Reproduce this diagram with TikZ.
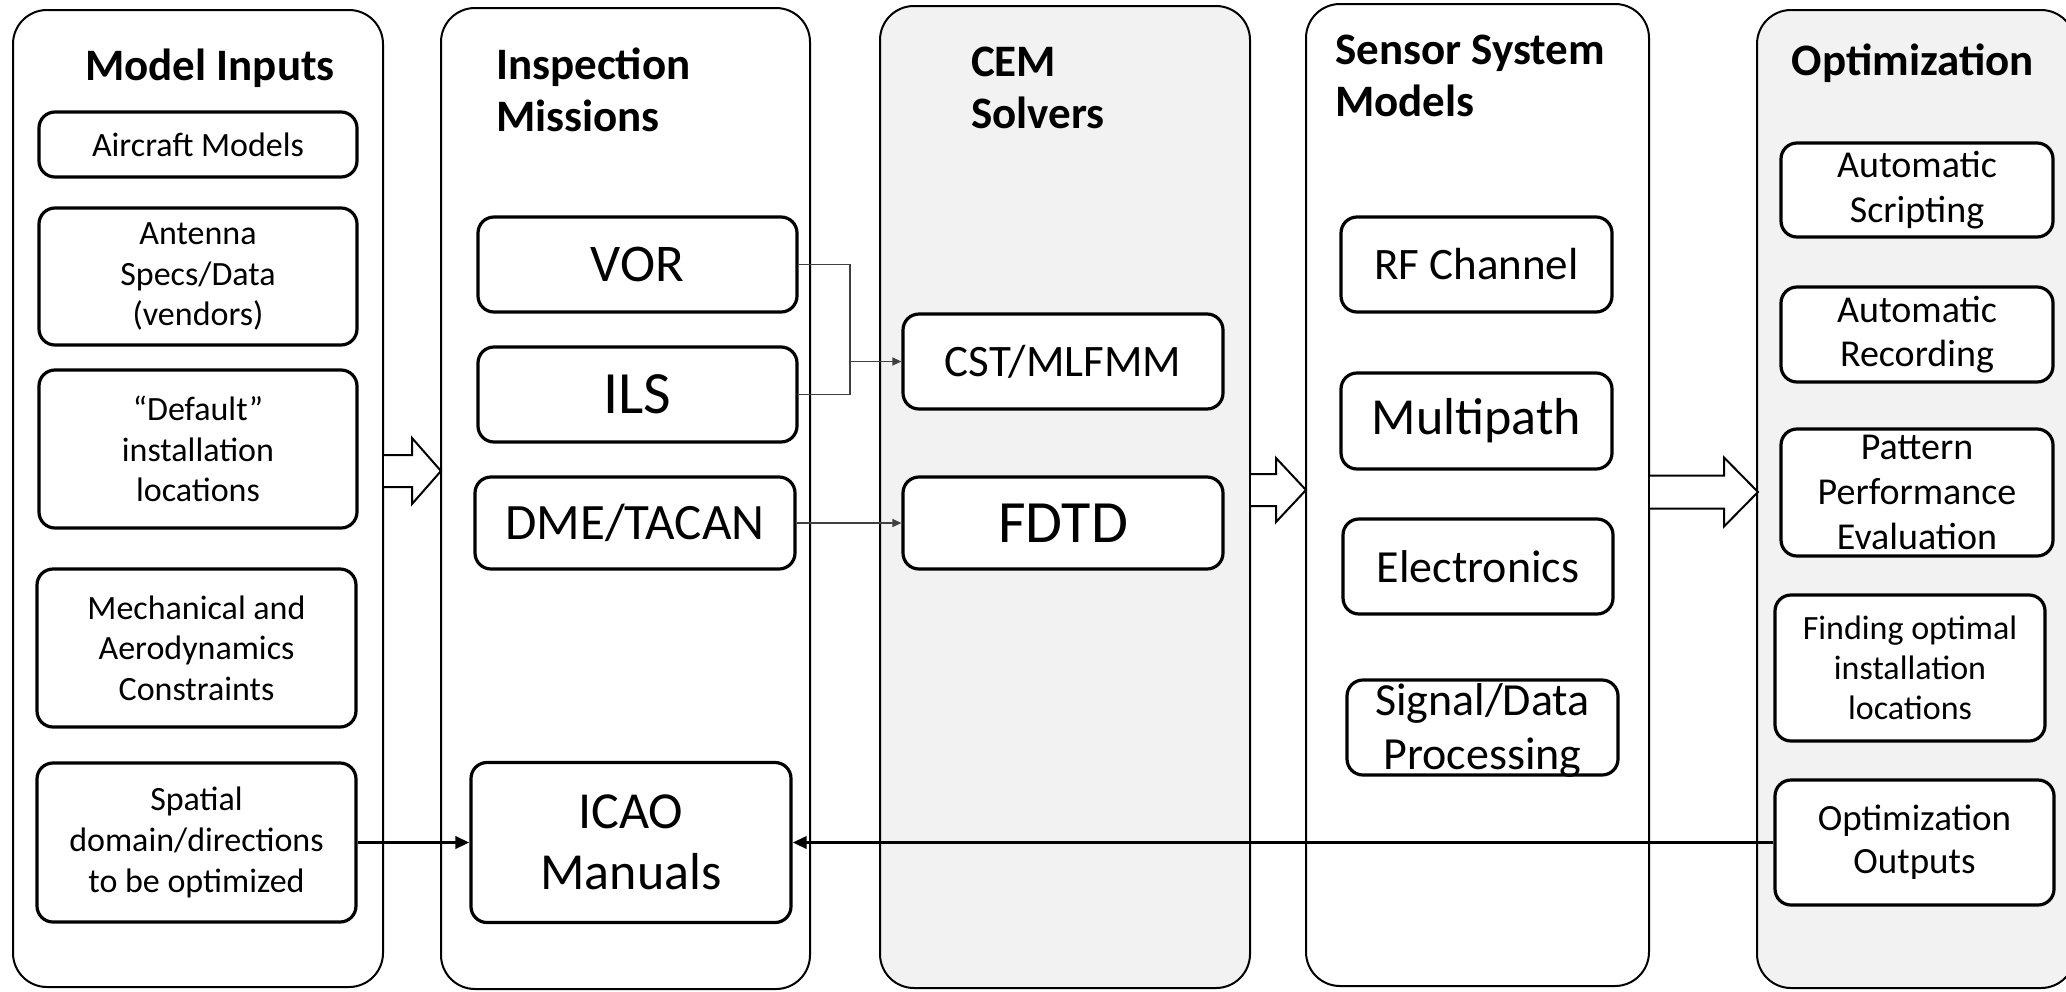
\documentclass[tikz,border=0pt]{standalone}
\usepackage{fontspec}
\setmainfont{Carlito}
\usetikzlibrary{arrows.meta}
\newcommand{\setfs}[2]{\fontsize{#1}{#2}\selectfont}

\begin{document}
\begin{tikzpicture}[x=0.5pt, y=-0.5pt,
    panel/.style={draw, line width=1pt, rounded corners=17pt},
    box/.style 2 args={draw, line width=1.6pt, rounded corners=8pt, fill=white,
      inner sep=0pt, align=center, minimum width=#1, minimum height=#2},
    header/.style={font=\setfs{22.5pt}{26pt}\bfseries, align=left},
    inputtxt/.style={font=\setfs{17pt}{20.3pt}},
    optitxt/.style={font=\setfs{19pt}{22.3pt}},
    thinline/.style={draw=black!75, line width=0.65pt},
    thinarrow/.style={thinline, -{Triangle[length=4.5pt,width=4pt]}},
    thickarrow/.style={draw, line width=1.7pt, -{Triangle[length=7pt,width=6pt]}},
    blockarrow/.style={draw, line width=1pt, fill=white, line join=miter}]

  \useasboundingbox (0,0) rectangle (2066,991);
  \clip (0,0) rectangle (2066,991);

  % Panelen
  \draw[panel] (13,10) rectangle (383,987);
  \draw[panel] (441,8) rectangle (810,989);
  \draw[panel, fill=black!5] (880,6) rectangle (1250,988);
  \draw[panel] (1306,4) rectangle (1649,986);
  \draw[panel, fill=black!5] (1757,10) rectangle (2075,988);

  % Blokpijlen tussen de panelen
  \foreach \xa/\xb/\xc/\yc/\ds/\dh in {384/412/441/471/16/33,
      1251/1276/1306/490/16/32, 1650/1724/1758/492/16.5/34.5}
    \draw[blockarrow] (\xa,\yc-\ds) -- (\xb,\yc-\ds) -- (\xb,\yc-\dh)
      -- (\xc,\yc) -- (\xb,\yc+\dh) -- (\xb,\yc+\ds) -- (\xa,\yc+\ds);

  % Model Inputs
  \node[header, anchor=base] (hinputs) at (210,80) {Model Inputs};
  \node[box={159pt}{32.5pt}, inputtxt] (aircraft) at (198,144.5) {Aircraft Models};
  \node[box={159pt}{68.5pt}, inputtxt] (antenna) at (198,276.5) {Antenna\\Specs/Data\\(vendors)};
  \node[box={159pt}{79pt}, inputtxt] (default) at (198,449) {“Default”\\installation\\locations};
  \node[box={159.5pt}{79pt}, inputtxt] (mech) at (196.5,648) {Mechanical and\\Aerodynamics\\Constraints};
  \node[box={159.5pt}{79.5pt}, inputtxt] (spatial) at (196.5,842.5) {Spatial\\domain/directions\\to be optimized};

  % Inspection Missions
  \node[header, anchor=west] (hmissions) at (489,90) {Inspection\\Missions};
  \node[box={159.5pt}{47.5pt}, font=\setfs{26.5pt}{30pt}] (vor) at (637.5,264.5) {VOR};
  \node[box={159.5pt}{47.5pt}, font=\setfs{30pt}{34pt}] (ils) at (637.5,394.5) {ILS};
  \node[box={160pt}{46pt}, font=\setfs{25.5pt}{30pt}] (dme) at (635,523) {DME/TACAN};
  \node[box={160pt}{80pt}, font=\setfs{26pt}{30.5pt}] (icao) at (631,842.5) {ICAO\\Manuals};

  % CEM Solvers
  \node[header, anchor=west] (hsolvers) at (964,88) {CEM\\Solvers};
  \node[box={160pt}{47.5pt}, font=\setfs{22.5pt}{27pt}] (cst) at (1063,361.5) {CST/MLFMM};
  \node[box={160pt}{46pt}, font=\setfs{30pt}{34pt}] (fdtd) at (1063,523) {FDTD};

  % Sensor System Models
  \node[header, anchor=west] (hsensor) at (1328,76) {Sensor System\\Models};
  \node[box={135.5pt}{47.5pt}, font=\setfs{22.5pt}{27pt}] (rf) at (1476.5,264.5) {RF Channel};
  \node[box={135.5pt}{48pt}, font=\setfs{26pt}{30pt}] (multi) at (1476.5,421) {Multipath};
  \node[box={135pt}{47.5pt}, font=\setfs{23pt}{27pt}] (elec) at (1478,566.5) {Electronics};
  \node[box={135.5pt}{47.5pt}] (signal) at (1482.5,727.5) {};
  \node[font=\setfs{23pt}{27pt}, align=center, inner sep=0pt] (signaltxt) at (1482.5,730) {Signal/Data\\Processing};

  % Optimization
  \node[header, anchor=base] (hopti) at (1913,75) {Optimization};
  \node[box={136pt}{47pt}, optitxt] (script) at (1917,190) {Automatic\\Scripting};
  \node[box={136pt}{47.5pt}, optitxt] (record) at (1917,334.5) {Automatic\\Recording};
  \node[box={136pt}{63.5pt}, optitxt] (pattern) at (1917,492.5) {Pattern\\Performance\\Evaluation};
  \node[box={135pt}{73pt}, font=\setfs{17pt}{20pt}] (finding) at (1910,668) {Finding optimal\\installation\\locations};
  \node[box={139.5pt}{62.5pt}, font=\setfs{18.5pt}{21.5pt}] (optout) at (1914.5,842.5) {Optimization\\Outputs};

  % Verbindingen
  \coordinate (split) at (850,361.5);
  \draw[thinline] (vor.east) -| (split) |- (ils.east);
  \draw[thinarrow] (split) -- (cst.west);
  \draw[thinarrow] (dme.east) -- (fdtd.west);
  \draw[thickarrow] (spatial.east) -- (icao.west);
  \draw[thickarrow] (optout.west) -- (icao.east);
\end{tikzpicture}
\end{document}
